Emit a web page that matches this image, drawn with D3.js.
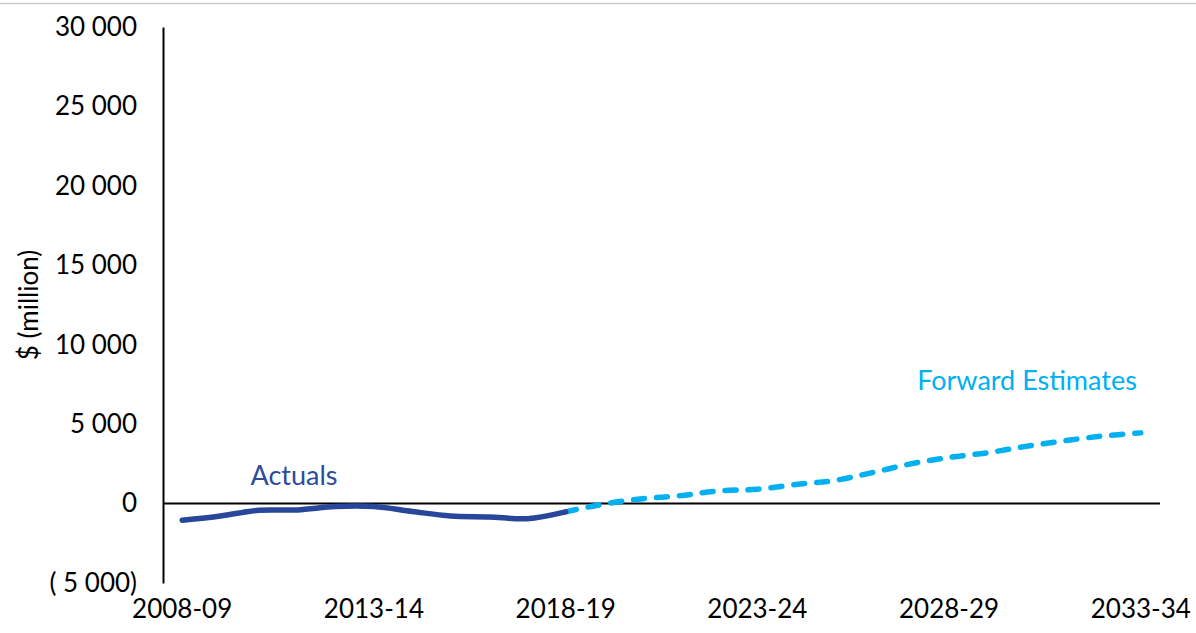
<!DOCTYPE html>
<html>
<head>
<meta charset="utf-8">
<script src="https://cdn.jsdelivr.net/npm/d3@7"></script>
<style>
  html, body { margin: 0; padding: 0; background: #fff; }
  svg { display: block; font-family: Lato, "Open Sans", sans-serif; }
</style>
</head>
<body>
<svg id="chart" width="1196" height="633"></svg>
<script>
// Financial years on the x axis
const years = [
  "2008-09","2009-10","2010-11","2011-12","2012-13","2013-14","2014-15",
  "2015-16","2016-17","2017-18","2018-19","2019-20","2020-21","2021-22",
  "2022-23","2023-24","2024-25","2025-26","2026-27","2027-28","2028-29",
  "2029-30","2030-31","2031-32","2032-33","2033-34"
];
// Outcomes, $ million
const actualYears = years.slice(0, 11);
const actualValues = [-1050, -780, -420, -400, -190, -190, -500, -780, -840, -950, -520];
// Projections, $ million (joined to the last actual year)
const forwardYears = years.slice(10);
const forwardValues = [-520, -30, 300, 500, 800, 900, 1200, 1450, 1950, 2500, 2900, 3200, 3600, 3950, 4250, 4450];

const yTicks = [-5000, 0, 5000, 10000, 15000, 20000, 25000, 30000];
const xTickLabels = ["2008-09", "2013-14", "2018-19", "2023-24", "2028-29", "2033-34"];

const svg = d3.select("#chart");

// thin rule along the top edge
svg.append("line")
  .attr("x1", 0).attr("x2", 1196).attr("y1", 3.5).attr("y2", 3.5)
  .attr("stroke", "#c9c9c9").attr("stroke-width", 1.5);

const plotLeft = 163, plotRight = 1160, plotTop = 27, plotBottom = 583;

const x = d3.scaleBand().domain(years).range([plotLeft, plotRight]);
const cx = d => x(d) + x.bandwidth() / 2;
const y = d3.scaleLinear().domain([-5000, 30000]).range([plotBottom, plotTop]);

const fmt = v => {
  const s = d3.format(",")(Math.abs(v)).replace(/,/g, " ");
  return v < 0 ? "( " + s + ")" : s;
};

// y axis
const yAxis = svg.append("g")
  .attr("transform", `translate(${plotLeft},0)`)
  .call(d3.axisLeft(y).tickValues(yTicks).tickFormat(fmt).tickSize(0).tickPadding(26));
yAxis.select(".domain").attr("stroke", "#000").attr("stroke-width", 2);
yAxis.selectAll("text")
  .attr("font-size", 26).attr("fill", "#000")
  .attr("font-family", "Lato, sans-serif");

// x axis labels (every fifth year)
const xAxis = svg.append("g")
  .attr("transform", `translate(0,${plotBottom})`)
  .call(d3.axisBottom(x).tickValues(xTickLabels).tickSize(0).tickPadding(17));
xAxis.select(".domain").remove();
xAxis.selectAll("text")
  .attr("font-size", 26).attr("fill", "#000")
  .attr("font-family", "Lato, sans-serif");

// zero line
svg.append("line")
  .attr("x1", plotLeft).attr("x2", plotRight)
  .attr("y1", y(0)).attr("y2", y(0))
  .attr("stroke", "#000").attr("stroke-width", 2);

// axis title
svg.append("text")
  .attr("transform", `translate(38,${(plotTop + plotBottom) / 2}) rotate(-90)`)
  .attr("text-anchor", "middle")
  .attr("font-size", 26)
  .attr("fill", "#000")
  .text("$ (million)");

const line = d3.line()
  .x(d => cx(d[0]))
  .y(d => y(d[1]))
  .curve(d3.curveCatmullRom.alpha(0.5));

// forward estimates (dashed)
svg.append("path")
  .datum(d3.zip(forwardYears, forwardValues))
  .attr("d", line)
  .attr("fill", "none")
  .attr("stroke", "#00b0f0")
  .attr("stroke-width", 5.5)
  .attr("stroke-linecap", "round")
  .attr("stroke-dasharray", "11 12");

// actuals (solid)
svg.append("path")
  .datum(d3.zip(actualYears, actualValues))
  .attr("d", line)
  .attr("fill", "none")
  .attr("stroke", "#28479b")
  .attr("stroke-width", 5.5)
  .attr("stroke-linecap", "round");

// series labels
svg.append("text")
  .attr("x", 294).attr("y", 485)
  .attr("text-anchor", "middle")
  .attr("font-size", 27)
  .attr("fill", "#2e4c9c")
  .text("Actuals");

svg.append("text")
  .attr("x", 1027).attr("y", 390)
  .attr("text-anchor", "middle")
  .attr("font-size", 27)
  .attr("fill", "#00b0f0")
  .text("Forward Estimates");
</script>
</body>
</html>
